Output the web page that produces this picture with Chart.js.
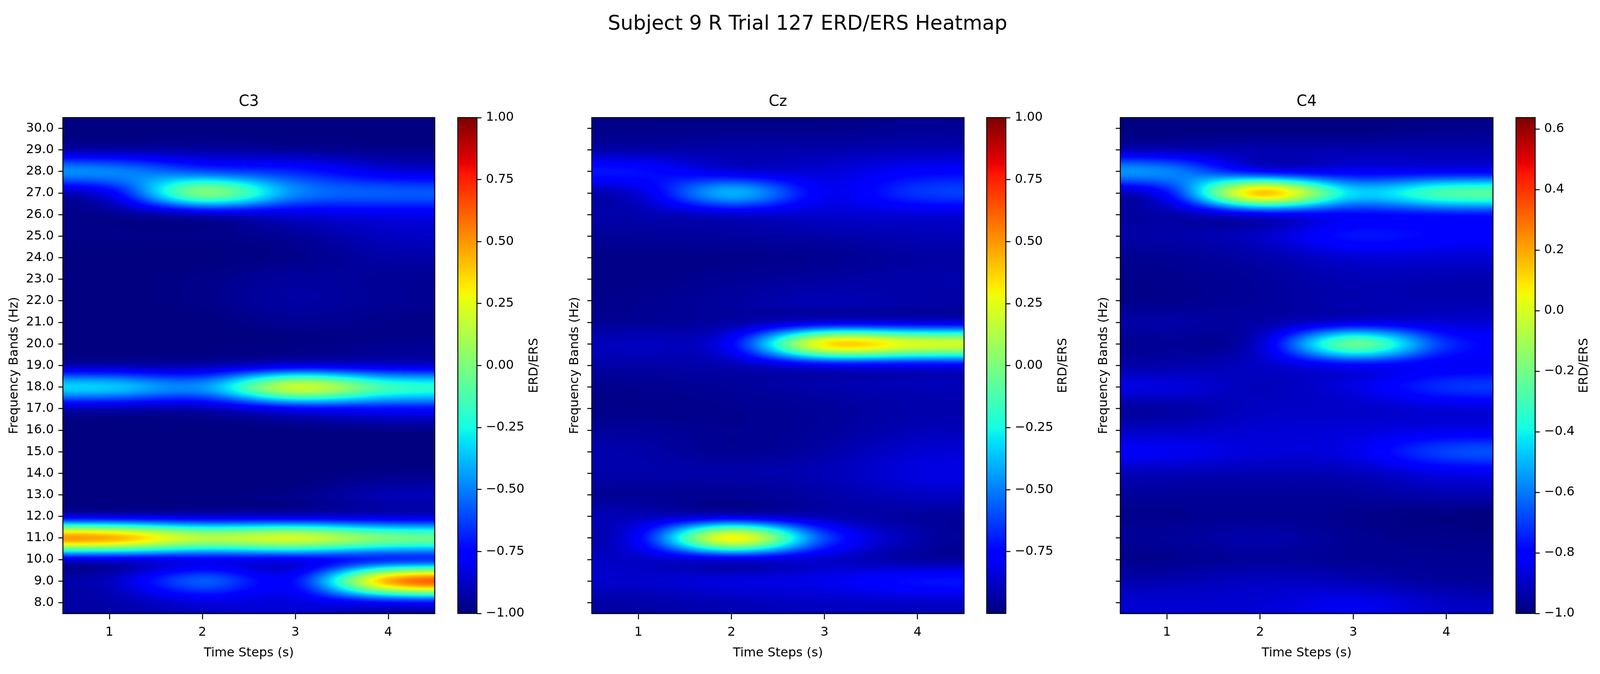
<!DOCTYPE html>
<html>
<head>
<meta charset="utf-8">
<title>ERD/ERS Heatmap</title>
<script src="https://cdn.jsdelivr.net/npm/chart.js@4"></script>
<style>
  html, body { margin: 0; padding: 0; background: #fff; overflow: hidden; }
  canvas { position: absolute; display: block; }
  #suptitle {
    position: absolute; transform: translate(-50%, -50%);
    font-family: "DejaVu Sans"; color: #000; white-space: nowrap;
  }
</style>
</head>
<body>
<div id="suptitle">Subject 9 R Trial 127 ERD/ERS Heatmap</div>
<script>
const timeSteps = [1, 2, 3, 4];
const freqBands = [30, 29, 28, 27, 26, 25, 24, 23, 22, 21, 20, 19, 18, 17, 16, 15, 14, 13, 12, 11, 10, 9, 8];
const c3Ticks = [-1, -0.75, -0.5, -0.25, 0, 0.25, 0.5, 0.75, 1];
const czTicks = [-0.75, -0.5, -0.25, 0, 0.25, 0.5, 0.75, 1];
const c4Ticks = [-1, -0.8, -0.6, -0.4, -0.2, 0, 0.2, 0.4, 0.6];

// rows follow freqBands, columns follow timeSteps
const c3Values = [
  [-1, -1, -1, -1],
  [-0.94, -0.94, -0.96, -0.98],
  [-0.43, -0.62, -0.68, -0.84],
  [-0.85, 0.18, -0.47, -0.54],
  [-0.98, -0.93, -0.85, -0.82],
  [-0.98, -0.98, -0.96, -0.88],
  [-1, -1, -0.98, -0.93],
  [-1, -0.98, -0.94, -0.96],
  [-1, -0.98, -0.93, -0.96],
  [-1, -1, -0.96, -0.98],
  [-1, -1, -1, -0.97],
  [-0.94, -0.94, -0.86, -0.88],
  [-0.27, -0.45, 0.38, -0.1],
  [-0.93, -0.93, -0.8, -0.75],
  [-1, -1, -1, -0.99],
  [-1, -1, -1, -1],
  [-1, -1, -1, -0.98],
  [-1, -1, -0.98, -0.9],
  [-0.9, -0.9, -0.9, -0.9],
  [0.64, 0.24, 0.36, 0.07],
  [-0.9, -0.85, -0.85, -0.78],
  [-0.9, -0.5, -0.8, 0.68],
  [-0.93, -0.85, -0.84, -0.82]
];
const czValues = [
  [-0.98, -0.98, -0.98, -0.96],
  [-0.93, -0.92, -0.92, -0.9],
  [-0.7, -0.86, -0.85, -0.76],
  [-0.88, -0.28, -0.82, -0.62],
  [-0.92, -0.88, -0.86, -0.85],
  [-0.95, -0.94, -0.93, -0.9],
  [-0.98, -0.98, -0.97, -0.94],
  [-0.98, -0.96, -0.94, -0.92],
  [-0.97, -0.94, -0.9, -0.93],
  [-0.96, -0.94, -0.88, -0.88],
  [-0.88, -0.8, 0.55, 0.35],
  [-0.93, -0.92, -0.85, -0.84],
  [-0.97, -0.95, -0.92, -0.9],
  [-0.98, -0.97, -0.95, -0.92],
  [-0.95, -0.97, -0.95, -0.9],
  [-0.92, -0.97, -0.93, -0.85],
  [-0.92, -0.92, -0.9, -0.82],
  [-0.96, -0.97, -0.93, -0.88],
  [-0.9, -0.9, -0.92, -0.95],
  [-0.82, 0.58, -0.62, -0.93],
  [-0.88, -0.9, -0.88, -0.95],
  [-0.86, -0.82, -0.8, -0.7],
  [-0.93, -0.9, -0.88, -0.88]
];
const c4Values = [
  [-1, -1, -1, -0.98],
  [-0.93, -0.93, -0.93, -0.93],
  [-0.53, -0.86, -0.84, -0.84],
  [-0.85, 0.38, -0.45, -0.2],
  [-0.95, -0.9, -0.82, -0.8],
  [-0.94, -0.9, -0.75, -0.8],
  [-0.97, -0.94, -0.88, -0.88],
  [-0.98, -0.96, -0.92, -0.93],
  [-0.98, -0.96, -0.93, -0.93],
  [-0.94, -0.95, -0.88, -0.88],
  [-0.97, -0.92, -0.07, -0.74],
  [-0.94, -0.9, -0.84, -0.84],
  [-0.85, -0.92, -0.86, -0.7],
  [-0.96, -0.9, -0.9, -0.88],
  [-0.9, -0.88, -0.87, -0.85],
  [-0.82, -0.87, -0.85, -0.66],
  [-0.92, -0.93, -0.92, -0.85],
  [-0.96, -0.96, -0.96, -0.93],
  [-0.98, -0.97, -0.98, -1],
  [-0.96, -0.93, -0.97, -0.98],
  [-0.98, -0.96, -0.97, -0.97],
  [-0.93, -0.9, -0.92, -0.96],
  [-0.88, -0.88, -0.83, -0.9]
];

// the layout was measured on a 5318x1725 figure, fit it to the real window
const SX = window.innerWidth / 5318;
const SY = window.innerHeight / 1725;
const FONT = '"DejaVu Sans"';
const TICK_SIZE = 41.67 * SX;
const TITLE_SIZE = 50 * SX;
const LINE = 3.3 * SX;
const AXES_TOP = 301 * SY;
const AXES_BOTTOM = 1570 * SY;

Chart.defaults.font.family = FONT;
Chart.defaults.color = "#000";
Chart.defaults.animation = false;

const sup = document.getElementById("suptitle");
sup.style.left = 2684 * SX + "px";
sup.style.top = 58 * SY + "px";
sup.style.fontSize = 66.67 * SX + "px";

// matplotlib jet segments
const JET = {
  r: [[0, 0], [0.35, 0], [0.66, 1], [0.89, 1], [1, 0.5]],
  g: [[0, 0], [0.125, 0], [0.375, 1], [0.64, 1], [0.91, 0], [1, 0]],
  b: [[0, 0.5], [0.11, 1], [0.34, 1], [0.65, 0], [1, 0]],
};
function segment(stops, t) {
  for (let i = 1; i < stops.length; i++) {
    if (t <= stops[i][0]) {
      const [x0, y0] = stops[i - 1];
      const [x1, y1] = stops[i];
      return y0 + ((t - x0) / (x1 - x0)) * (y1 - y0);
    }
  }
  return stops[stops.length - 1][1];
}
const jetLut = [];
for (let i = 0; i < 256; i++) {
  const t = i / 255;
  jetLut.push([segment(JET.r, t) * 255, segment(JET.g, t) * 255, segment(JET.b, t) * 255]);
}
function jetColor(v, vmin, vmax) {
  const t = Math.min(1, Math.max(0, (v - vmin) / (vmax - vmin)));
  return jetLut[Math.min(255, Math.floor(t * 256))];
}

// Mitchell cubic, softer than Catmull-Rom so bright bands get no dark rim
function cubicWeight(d) {
  const x = Math.abs(d);
  if (x < 1) return (7 * x * x * x - 12 * x * x + 16 / 3) / 6;
  if (x < 2) return ((-7 / 3) * x * x * x + 12 * x * x - 20 * x + 32 / 3) / 6;
  return 0;
}
function reflect(i, n) {
  if (i < 0) return -i - 1;
  if (i >= n) return 2 * n - i - 1;
  return i;
}
// 4 indices and weights for a fractional grid position
function kernel(pos, n) {
  const i0 = Math.floor(pos);
  const idx = [];
  const w = [];
  for (let k = -1; k <= 2; k++) {
    idx.push(reflect(i0 + k, n));
    w.push(cubicWeight(pos - (i0 + k)));
  }
  return { idx, w };
}

const heatmapPlugin = {
  id: "heatmap",
  beforeDatasetsDraw(chart, args, opts) {
    const { left, top, width, height } = chart.chartArea;
    const { x, y } = chart.scales;
    const w = Math.round(width);
    const h = Math.round(height);
    const off = document.createElement("canvas");
    off.width = w;
    off.height = h;
    const octx = off.getContext("2d");
    const img = octx.createImageData(w, h);
    const rows = opts.values;
    const xKer = [];
    for (let i = 0; i < w; i++) {
      const val = x.getValueForPixel(left + i + 0.5);
      xKer.push(kernel(val - timeSteps[0], timeSteps.length));
    }
    for (let j = 0; j < h; j++) {
      const val = y.getValueForPixel(top + j + 0.5);
      const yk = kernel(freqBands[0] - val, freqBands.length);
      // collapse rows first, then run across the columns
      const col = [0, 0, 0, 0];
      for (let c = 0; c < 4; c++) {
        for (let k = 0; k < 4; k++) col[c] += yk.w[k] * rows[yk.idx[k]][c];
      }
      for (let i = 0; i < w; i++) {
        const xk = xKer[i];
        let v = 0;
        for (let k = 0; k < 4; k++) v += xk.w[k] * col[xk.idx[k]];
        const rgb = jetColor(v, opts.vmin, opts.vmax);
        const p = (j * w + i) * 4;
        img.data[p] = rgb[0];
        img.data[p + 1] = rgb[1];
        img.data[p + 2] = rgb[2];
        img.data[p + 3] = 255;
      }
    }
    octx.putImageData(img, 0, 0);
    chart.ctx.drawImage(off, left, top, width, height);
  },
};

const colorbarPlugin = {
  id: "colorbar",
  beforeDatasetsDraw(chart, args, opts) {
    const { left, top, width, height } = chart.chartArea;
    const y = chart.scales.y;
    const ctx = chart.ctx;
    for (let j = 0; j < Math.round(height); j++) {
      const val = y.getValueForPixel(top + j + 0.5);
      const rgb = jetColor(val, opts.vmin, opts.vmax);
      ctx.fillStyle = `rgb(${rgb[0]},${rgb[1]},${rgb[2]})`;
      ctx.fillRect(left, top + j, width, 1.5);
    }
  },
  afterDraw(chart, args, opts) {
    const { top, bottom, right } = chart.chartArea;
    const ctx = chart.ctx;
    ctx.save();
    ctx.translate(right + opts.labelOffset, (top + bottom) / 2);
    ctx.rotate(-Math.PI / 2);
    ctx.font = `${TICK_SIZE}px ${FONT}`;
    ctx.fillStyle = "#000";
    ctx.textAlign = "center";
    ctx.textBaseline = "middle";
    ctx.fillText("ERD/ERS", 0, 0);
    ctx.restore();
  },
};

const spinePlugin = {
  id: "spine",
  afterDraw(chart) {
    const { left, top, width, height } = chart.chartArea;
    const ctx = chart.ctx;
    ctx.save();
    ctx.strokeStyle = "#000";
    ctx.lineWidth = LINE;
    ctx.strokeRect(left, top, width, height);
    ctx.restore();
  },
};

function addCanvas(left, top, width, height) {
  const c = document.createElement("canvas");
  c.width = Math.round(width);
  c.height = Math.round(height);
  c.style.left = left + "px";
  c.style.top = top + "px";
  document.body.appendChild(c);
  return c;
}

function tickStyle(len) {
  return {
    display: true,
    drawOnChartArea: false,
    drawTicks: true,
    tickLength: len,
    tickWidth: LINE,
    tickColor: "#000",
  };
}

function cellPoints(values) {
  const pts = [];
  freqBands.forEach((f, r) => timeSteps.forEach((t, c) => pts.push({ x: t, y: f, v: values[r][c] })));
  return pts;
}

function drawPanel(p) {
  const yWidth = Math.round(p.yWidth * SX);
  const left = Math.round(p.left * SX);
  const right = Math.round(p.right * SX);
  const canvasTop = Math.round(220 * SY);
  const canvasHeight = window.innerHeight - canvasTop;
  const titleLine = TITLE_SIZE * 1.2;
  const titleTop = AXES_TOP - canvasTop - (40 * SY + titleLine / 2);
  const tickLine = TICK_SIZE * 1.2;
  new Chart(addCanvas(left - yWidth, canvasTop, yWidth + (right - left) + 10, canvasHeight), {
    type: "scatter",
    data: { datasets: [{ data: cellPoints(p.values), pointRadius: 0 }] },
    options: {
      responsive: false,
      devicePixelRatio: 1,
      layout: { padding: { left: 0, right: 10, top: 0, bottom: 0 } },
      plugins: {
        legend: { display: false },
        tooltip: { enabled: false },
        title: {
          display: true,
          fullSize: false, // centre over the axes, not over the canvas
          text: p.name,
          color: "#000",
          font: { size: TITLE_SIZE, weight: "normal" },
          padding: { top: titleTop, bottom: AXES_TOP - canvasTop - titleTop - titleLine },
        },
        heatmap: { values: p.values, vmin: p.vmin, vmax: p.vmax },
      },
      scales: {
        x: {
          min: 0.5,
          max: 4.5,
          afterBuildTicks: (s) => { s.ticks = timeSteps.map((v) => ({ value: v })); },
          afterFit: (s) => { s.height = window.innerHeight - AXES_BOTTOM; },
          grid: tickStyle(15 * SY),
          border: { display: true, width: LINE, color: "#000" },
          ticks: {
            autoSkip: false, maxRotation: 0, padding: 14 * SY,
            font: { size: TICK_SIZE }, color: "#000",
            callback: (v) => String(v),
          },
          title: {
            display: true, text: "Time Steps (s)", color: "#000",
            font: { size: TICK_SIZE }, padding: { top: 0, bottom: 53 * SY - tickLine / 2 },
          },
        },
        y: {
          min: 7.5,
          max: 30.5,
          afterBuildTicks: (s) => { s.ticks = freqBands.map((v) => ({ value: v })); },
          afterFit: (s) => { s.width = yWidth; },
          grid: tickStyle(15 * SX),
          border: { display: true, width: LINE, color: "#000" },
          ticks: {
            display: p.showLabels, autoSkip: false, padding: 15 * SX,
            font: { size: TICK_SIZE }, color: "#000",
            callback: (v) => v.toFixed(1),
          },
          title: {
            display: true, text: "Frequency Bands (Hz)", color: "#000",
            font: { size: TICK_SIZE }, padding: { top: p.yTitleAt * SX - tickLine / 2, bottom: 0 },
          },
        },
      },
    },
    plugins: [heatmapPlugin, spinePlugin],
  });

  // colour bar next to the panel
  const barLeft = Math.round(p.barLeft * SX);
  const barWidth = Math.round(63 * SX);
  const barTop = Math.round(270 * SY);
  const barAxis = Math.round(230 * SX);
  new Chart(addCanvas(barLeft - 10, barTop, 10 + barWidth + barAxis, window.innerHeight - barTop), {
    type: "scatter",
    data: { datasets: [{ data: p.barTicks.map((v) => ({ x: 0, y: v })), pointRadius: 0 }] },
    options: {
      responsive: false,
      devicePixelRatio: 1,
      layout: { padding: { left: 10, right: 0, top: AXES_TOP - barTop, bottom: window.innerHeight - AXES_BOTTOM } },
      plugins: {
        legend: { display: false },
        tooltip: { enabled: false },
        colorbar: { vmin: p.vmin, vmax: p.vmax, labelOffset: p.barLabelOffset * SX },
      },
      scales: {
        x: { display: false, min: 0, max: 1 },
        y: {
          position: "right",
          min: p.vmin,
          max: p.vmax,
          afterBuildTicks: (s) => { s.ticks = p.barTicks.map((v) => ({ value: v })); },
          afterFit: (s) => { s.width = barAxis; },
          grid: tickStyle(15 * SX),
          border: { display: false },
          ticks: {
            autoSkip: false, padding: 15 * SX,
            font: { size: TICK_SIZE }, color: "#000",
            callback: (v) => v.toFixed(p.barDigits).replace("-", "\u2212"),
          },
        },
      },
    },
    plugins: [colorbarPlugin, spinePlugin],
  });
}

drawPanel({
  name: "C3", values: c3Values, left: 209, right: 1445, yWidth: 209, showLabels: true, yTitleAt: 47,
  vmin: -1, vmax: 1, barTicks: c3Ticks, barDigits: 2, barLeft: 1522, barLabelOffset: 191,
});
drawPanel({
  name: "Cz", values: czValues, left: 1967, right: 3204, yWidth: 100, showLabels: false, yTitleAt: 44,
  vmin: -0.999, vmax: 1, barTicks: czTicks, barDigits: 2, barLeft: 3280, barLabelOffset: 190,
});
drawPanel({
  name: "C4", values: c4Values, left: 3724, right: 4962, yWidth: 100, showLabels: false, yTitleAt: 45,
  vmin: -1, vmax: 0.6375, barTicks: c4Ticks, barDigits: 1, barLeft: 5039, barLabelOffset: 163,
});
</script>
</body>
</html>
